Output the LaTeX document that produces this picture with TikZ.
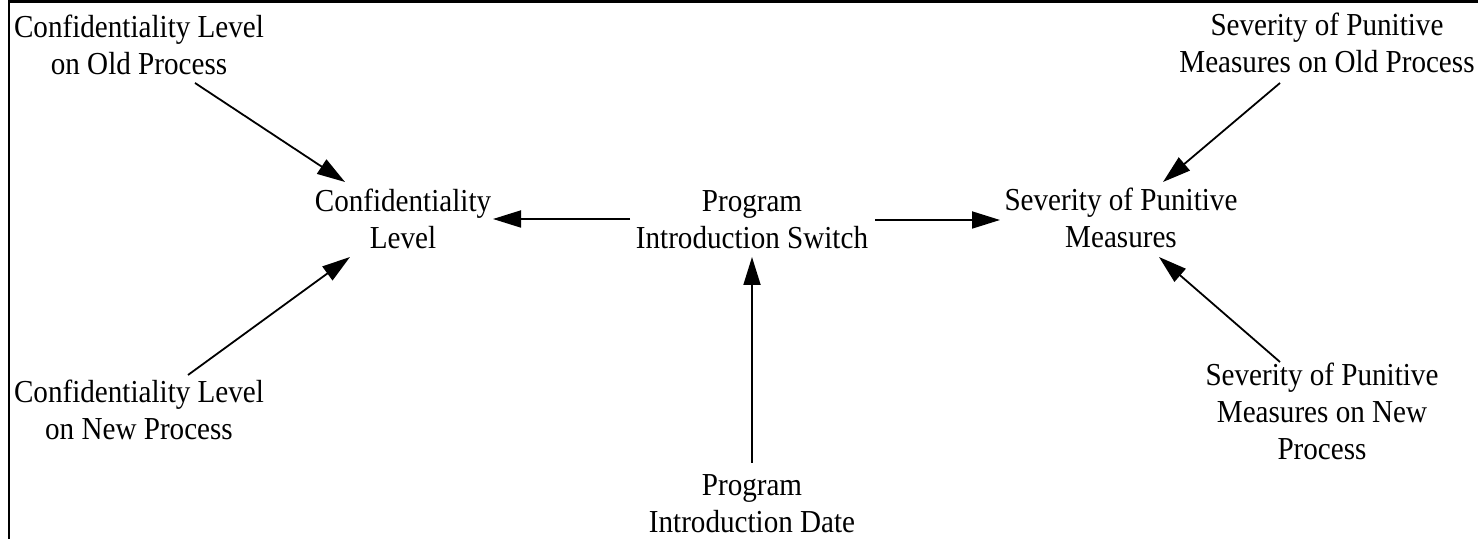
\documentclass[tikz,border=0pt]{standalone}
\usepackage{fontspec}
\setmainfont{Liberation Serif}[FakeStretch=0.91]
\usetikzlibrary{arrows.meta}
\tikzset{
  lbl/.style={align=center, inner sep=0pt, anchor=base, font=\fontsize{16}{18.5}\selectfont},
  arr/.style={line width=0.9pt, -{Triangle[length=14pt,width=8.5pt]}},
  frame/.style={line width=1.2pt}
}
\begin{document}
\begin{tikzpicture}[x=0.5pt,y=-0.5pt]
\useasboundingbox (0,0) rectangle (1478,539);
\draw[frame] (9,539) -- (9,1.5) -- (1478,1.5);
\node[lbl] (clold) at (139,75) {Confidentiality Level\\on Old Process};
\node[lbl] (cl) at (403,249) {Confidentiality\\Level};
\node[lbl] (pis) at (752,249) {Program\\Introduction Switch};
\node[lbl] (spm) at (1121,248) {Severity of Punitive\\Measures};
\node[lbl] (spmold) at (1327,73) {Severity of Punitive\\Measures on Old Process};
\node[lbl] (clnew) at (139,440) {Confidentiality Level\\on New Process};
\node[lbl] (spmnew) at (1322,460) {Severity of Punitive\\Measures on New\\Process};
\node[lbl] (pid) at (752,532) {Program\\Introduction Date};
\draw[arr] ([shift={(56,8)}]clold.base) -- ([shift={(-58,-67)}]cl.base);
\draw[arr] ([shift={(49,-65)}]clnew.base) -- ([shift={(-53,8)}]cl.base);
\draw[arr] ([shift={(-122,-30)}]pis.base) -- ([shift={(90,-30)}]cl.base);
\draw[arr] ([shift={(123,-29)}]pis.base) -- ([shift={(-121,-28)}]spm.base);
\draw[arr] ([shift={(0,-69)}]pid.base) -- ([shift={(0,8)}]pis.base);
\draw[arr] ([shift={(-47,10)}]spmold.base) -- ([shift={(42,-66)}]spm.base);
\draw[arr] ([shift={(-42,-98)}]spmnew.base) -- ([shift={(38,9)}]spm.base);
\end{tikzpicture}
\end{document}
